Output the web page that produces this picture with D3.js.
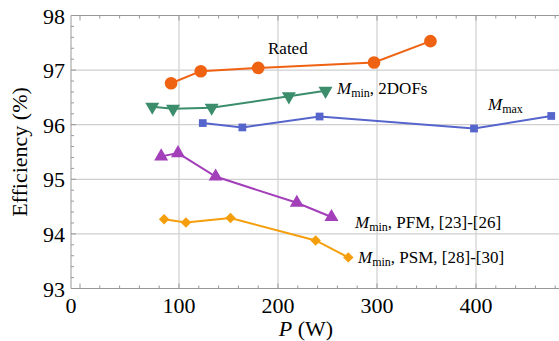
<!DOCTYPE html>
<meta charset="utf-8">
<script src="https://d3js.org/d3.v7.min.js"></script>
<style>
  body { margin: 0; background: white; }
</style>
<div id="chart"></div>
<script>
// values, P in W and efficiency in %
const ratedP = [92, 122, 180, 297, 354];
const ratedEff = [96.76, 96.98, 97.04, 97.14, 97.53];

const dofP = [73, 94, 133, 211, 248];
const dofEff = [96.33, 96.29, 96.31, 96.52, 96.62];

const maxP = [124, 164, 242, 398, 476];
const maxEff = [96.03, 95.95, 96.15, 95.93, 96.16];

const pfmP = [82, 99, 137, 219, 254];
const pfmEff = [95.42, 95.48, 95.05, 94.57, 94.31];

const psmP = [85, 107, 152, 238, 271];
const psmEff = [94.27, 94.21, 94.29, 93.88, 93.57];

const xTicks = [0, 100, 200, 300, 400];
const yTicks = [93, 94, 95, 96, 97, 98];

const width = 559, height = 341;
const pLeft = 71, pTop = 15.5, pBottom = 288.5, pRight = 559;

const svg = d3.select("#chart").append("svg")
    .attr("width", width)
    .attr("height", height)

const x = d3.scaleLinear().domain([0, 400]).range([80, 476])
const y = d3.scaleLinear().domain([93, 98]).range([pBottom, pTop])

// grid
svg.append("g").selectAll("line")
  .data(xTicks.filter(d => d > 0))
  .join("line")
    .attr("x1", d => x(d)).attr("x2", d => x(d))
    .attr("y1", pTop).attr("y2", pBottom)
    .style("stroke", "#cfcfcf").style("stroke-width", 1.2)
svg.append("g").selectAll("line")
  .data(yTicks.slice(1, -1))
  .join("line")
    .attr("x1", pLeft).attr("x2", pRight)
    .attr("y1", d => y(d)).attr("y2", d => y(d))
    .style("stroke", "#cfcfcf").style("stroke-width", 1.2)

// frame lines
const frame = svg.append("g").style("stroke", "#999").style("stroke-width", 1)
frame.append("line").attr("x1", pLeft).attr("x2", pRight).attr("y1", pTop).attr("y2", pTop)
frame.append("line").attr("x1", pLeft).attr("x2", pRight).attr("y1", pBottom).attr("y2", pBottom)
frame.append("line").attr("x1", pLeft).attr("x2", pLeft).attr("y1", pTop).attr("y2", pBottom)

// inward ticks, every 20 W and every 0.2 %
const xMinor = d3.range(0, 500, 20).filter(d => x(d) < pRight)
frame.append("g").selectAll("line")
  .data(xMinor)
  .join("line")
    .attr("x1", d => x(d)).attr("x2", d => x(d))
    .attr("y1", pBottom).attr("y2", d => pBottom - (d % 100 === 0 ? 5 : 3))
frame.append("g").selectAll("line")
  .data(xMinor)
  .join("line")
    .attr("x1", d => x(d)).attr("x2", d => x(d))
    .attr("y1", pTop).attr("y2", d => pTop + (d % 100 === 0 ? 5 : 3))
const yMinor = d3.range(0, 26).map(i => 93 + i * 0.2)
frame.append("g").selectAll("line")
  .data(yMinor)
  .join("line")
    .attr("x1", pLeft).attr("x2", (d, i) => pLeft + (i % 5 === 0 ? 5 : 3))
    .attr("y1", d => y(d)).attr("y2", d => y(d))

// tick labels
svg.append("g").selectAll("text")
  .data(xTicks)
  .join("text")
    .attr("x", d => d === 0 ? pLeft : x(d))
    .attr("y", 313)
    .attr("text-anchor", "middle")
    .style("font-size", "22px")
    .text(d => d)
svg.append("g").selectAll("text")
  .data(yTicks)
  .join("text")
    .attr("x", 65)
    .attr("y", d => y(d) + 8)
    .attr("text-anchor", "end")
    .style("font-size", "22px")
    .text(d => d)

// axis titles
const xt = svg.append("text")
    .attr("x", 306).attr("y", 336)
    .attr("text-anchor", "middle")
    .style("font-size", "22px")
xt.append("tspan").style("font-style", "italic").text("P")
xt.append("tspan").text(" (W)")

svg.append("text")
    .attr("transform", "translate(27," + ((pTop + pBottom) / 2) + ") rotate(-90)")
    .attr("text-anchor", "middle")
    .style("font-size", "22px")
    .text("Efficiency (%)")

// series
const series = [
  {p: ratedP, e: ratedEff, color: "#ee6212", shape: "circle"},
  {p: dofP, e: dofEff, color: "#3b8d6b", shape: "down"},
  {p: maxP, e: maxEff, color: "#5565cc", shape: "square"},
  {p: pfmP, e: pfmEff, color: "#a23fb9", shape: "up"},
  {p: psmP, e: psmEff, color: "#f59e0b", shape: "diamond"}
]

const symbols = {
  circle: d3.symbol().type(d3.symbolCircle).size(125),
  square: d3.symbol().type(d3.symbolSquare).size(60),
  diamond: d3.symbol().type(d3.symbolSquare).size(55),
  up: d3.symbol().type(d3.symbolTriangle).size(85),
  down: d3.symbol().type(d3.symbolTriangle).size(85)
}
const turn = {down: " rotate(180)", diamond: " rotate(45)"}

const line = d3.line().x(d => x(d[0])).y(d => y(d[1]))

series.forEach(s => {
  const pts = s.p.map((v, i) => [v, s.e[i]])
  svg.append("path")
    .datum(pts)
    .attr("d", line)
    .style("fill", "none")
    .style("stroke", s.color)
    .style("stroke-width", 2)
  svg.append("g").selectAll("path")
    .data(pts)
    .join("path")
      .attr("d", symbols[s.shape])
      .attr("transform", d => "translate(" + x(d[0]) + "," + y(d[1]) + ")" + (turn[s.shape] || ""))
      .style("fill", s.color)
})

// annotations
function label(xp, yp, sub, rest) {
  const t = svg.append("text").attr("x", xp).attr("y", yp).style("font-size", "17px")
  t.append("tspan").style("font-style", "italic").text("M")
  t.append("tspan").attr("dy", 3).style("font-size", "12px").text(sub)
  if (rest) t.append("tspan").attr("dy", -3).text(rest)
}
svg.append("text").attr("x", 268).attr("y", 54).style("font-size", "17px").text("Rated")
label(337, 94, "min", ", 2DOFs")
label(488, 110, "max", "")
label(355, 228, "min", ", PFM, [23]-[26]")
label(358, 263, "min", ", PSM, [28]-[30]")

// serif font set on every text element
svg.selectAll("text").style("font-family", "'Liberation Serif'")
</script>
